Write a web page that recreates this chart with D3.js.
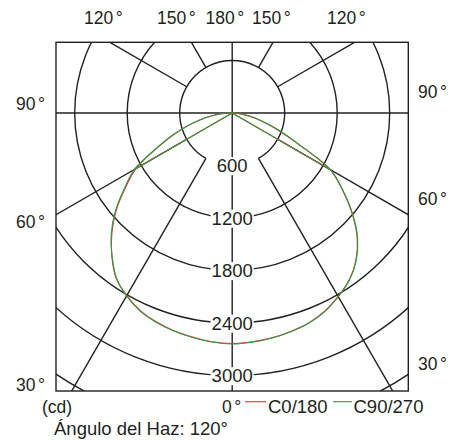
<!DOCTYPE html>
<html><head><meta charset="utf-8">
<script src="https://cdn.jsdelivr.net/npm/d3@7"></script>
<style>
body{margin:0;background:#fff}
svg{display:block}
text{font-family:"Liberation Sans",Arial,Helvetica,sans-serif;fill:#231f20}
</style>
</head><body><svg id="c" width="455" height="441"></svg>
<script>
// ---------- data ----------
const angles   = [0,5,10,15,20,25,30,35,40,45,50,55,60,65,70,75,80,85,90];
const c0Right  = [2635,2625,2610,2585,2555,2500,2420,2330,2200,2020,1790,1540,1290,820,540,340,190,80,0];
const c180Left = [2635,2625,2600,2575,2540,2490,2410,2310,2140,1945,1730,1490,1270,950,700,480,300,150,0];
const c90Right = [2640,2630,2612,2588,2558,2505,2425,2335,2205,2028,1798,1548,1300,830,560,350,200,90,0];
const c270Left = [2640,2628,2605,2580,2545,2495,2415,2305,2135,1955,1742,1505,1290,960,710,490,310,160,0];
const ringValues = [600,1200,1800,2400,3000,3600];
const ringLabels = [600,1200,1800,2400,3000];
const spokeAngles = [30,60,120,150];
const topAngleLabels = ["120","150","180","150","120"];
const leftAngleLabels = ["90","60","30"];
const rightAngleLabels = ["90","60","30"];
const seriesNames = ["C0/180","C90/270"];
const unitLabel = "(cd)";
const beamText = "Ángulo del Haz: 120°";

// ---------- layout ----------
const svg = d3.select("#c");
const box = {x0:56, x1:408.3, y0:42.3, y1:391};
const cx = 232.2, cy = 113;
const r = d3.scaleLinear().domain([0,3600]).range([0,315]);
const ink = "#231f20";
const red = "#e8312f", green = "#2f9a45";
const toRad = d => d*Math.PI/180;

svg.append("defs").append("clipPath").attr("id","bx")
  .append("rect").attr("x",box.x0).attr("y",box.y0)
  .attr("width",box.x1-box.x0).attr("height",box.y1-box.y0);

const grid = svg.append("g").attr("clip-path","url(#bx)")
  .attr("fill","none").attr("stroke",ink).attr("stroke-width",1.4);

// rings
ringValues.forEach((v,i)=>{
  const p = d3.path();
  if(i===0){
    p.arc(cx,cy,r(v),Math.PI/2+Math.PI/6,Math.PI/2-Math.PI/6,false);
  } else {
    p.arc(cx,cy,r(v),0,2*Math.PI);
  }
  grid.append("path").attr("d",p.toString());
});

// spokes (start at first ring), both sides
spokeAngles.forEach(a=>{
  [1,-1].forEach(s=>{
    const t = toRad(a);
    const dx = s*Math.sin(t), dy = Math.cos(t);
    grid.append("line")
      .attr("x1",cx+dx*r(ringValues[0])).attr("y1",cy+dy*r(ringValues[0]))
      .attr("x2",cx+dx*600).attr("y2",cy+dy*600);
  });
});
grid.append("line").attr("x1",cx).attr("x2",cx).attr("y1",box.y0).attr("y2",box.y1);
grid.append("line").attr("x1",box.x0).attr("x2",box.x1).attr("y1",cy).attr("y2",cy);

svg.append("rect").attr("x",box.x0).attr("y",box.y0)
  .attr("width",box.x1-box.x0).attr("height",box.y1-box.y0)
  .attr("fill","none").attr("stroke",ink).attr("stroke-width",1.4);

// ring labels with white backgrounds
ringLabels.forEach(v=>{
  const g = svg.append("g");
  const t = g.append("text").attr("x",cx).attr("y",cy+r(v)).attr("dy","0.36em")
    .attr("text-anchor","middle").attr("font-size",18.5).text(v);
  const b = t.node().getBBox();
  g.insert("rect","text").attr("x",b.x-1).attr("y",b.y+2)
    .attr("width",b.width+2).attr("height",b.height-3).attr("fill","#fff");
});

// curves
const radial = d3.lineRadial().angle(d=>d[0]).radius(d=>d[1]).curve(d3.curveCatmullRom.alpha(0.5));
const straight = d3.lineRadial().angle(d=>d[0]).radius(d=>d[1]);
function drawSeries(left,right,color){
  const pts = [];
  for(let i=angles.length-1;i>=0;i--) pts.push([Math.PI+toRad(angles[i]), r(left[i])]);
  for(let i=1;i<angles.length;i++) pts.push([Math.PI-toRad(angles[i]), r(right[i])]);
  const g = svg.append("g").attr("transform",`translate(${cx},${cy})`)
    .attr("fill","none").attr("stroke",color).attr("stroke-width",1.1);
  g.append("path").attr("d",radial(pts));
  const k = angles.indexOf(60);
  g.append("path").attr("d",straight([[0,0],[Math.PI+toRad(60), r(left[k])]]));
  g.append("path").attr("d",straight([[0,0],[Math.PI-toRad(60), r(right[k])]]));
}
drawSeries(c180Left,c0Right,red);
drawSeries(c270Left,c90Right,green);

// angle labels
function degLabel(x,y,txt,size){
  const t = svg.append("text").attr("x",x).attr("y",y).attr("font-size",size);
  t.append("tspan").text(txt);
  t.append("tspan").attr("dx",2.5).text("°");
  return t;
}
const topX = [84,157,205.5,252,327];
topAngleLabels.forEach((s,i)=>degLabel(topX[i],24,s,17.5));
const leftY = [110,228,391];
leftAngleLabels.forEach((s,i)=>degLabel(16,leftY[i],s,17.5));
const rightY = [98,205,370];
rightAngleLabels.forEach((s,i)=>degLabel(418,rightY[i],s,17.5));

svg.append("text").attr("x",42).attr("y",413).attr("font-size",17.5).text(unitLabel);
degLabel(222,413,"0",17.5);
const legX = [[245,266,268],[333,352,353.5]];
[red,green].forEach((c,i)=>{
  svg.append("line").attr("x1",legX[i][0]).attr("x2",legX[i][1])
    .attr("y1",401.7).attr("y2",401.7).attr("stroke",c).attr("stroke-width",1.1);
  svg.append("text").attr("x",legX[i][2]).attr("y",413).attr("font-size",18.5).text(seriesNames[i]);
});
svg.append("text").attr("x",54).attr("y",435).attr("font-size",18.5).text(beamText);
</script>
</body></html>
